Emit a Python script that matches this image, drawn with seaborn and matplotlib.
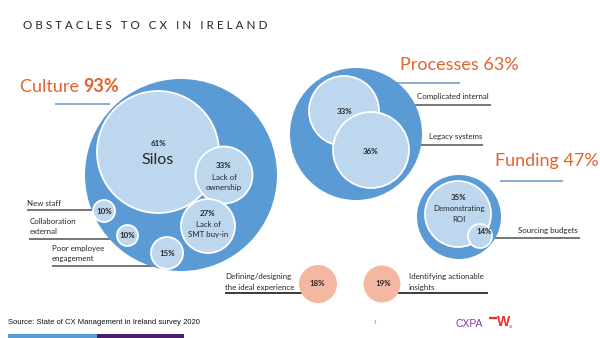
import matplotlib
matplotlib.use("Agg")
import matplotlib.pyplot as plt
import seaborn as sns
import pandas as pd

sns.set_theme(style="white")
plt.rcParams['font.family'] = ['Lato', 'DejaVu Sans']

# ---------------- data ----------------
groups = ["Culture", "Processes", "Funding"]
group_pct = [93, 63, 47]

culture_items = ["Silos", "Lack of ownership", "Lack of SMT buy-in", "New staff",
                 "Collaboration external", "Poor employee engagement"]
culture_pct = [61, 33, 27, 10, 10, 15]
process_items = ["Complicated internal", "Legacy systems"]
process_pct = [33, 36]
funding_items = ["Demonstrating ROI", "Sourcing budgets"]
funding_pct = [35, 14]
other_items = ["Defining/designing the ideal experience", "Identifying actionable insights"]
other_pct = [18, 19]

title = "OBSTACLES TO CX IN IRELAND"
source = "Source: State of CX Management in Ireland survey 2020"

# ---------------- layout (pixel positions, radii) ----------------
outer_layout = {"Culture": (181, 175, 96), "Processes": (356, 134, 66), "Funding": (459, 217, 42)}
inner_layout = {
    "Silos": (158, 152, 61), "Lack of ownership": (224, 175, 28.5), "Lack of SMT buy-in": (208, 226, 27),
    "New staff": (104, 211, 11), "Collaboration external": (127.5, 235.5, 10.5),
    "Poor employee engagement": (167, 253, 16),
    "Complicated internal": (344, 111, 35), "Legacy systems": (371, 150, 38),
    "Demonstrating ROI": (458, 214, 33), "Sourcing budgets": (480, 236, 12),
}
other_layout = {"Defining/designing the ideal experience": (318, 284, 19),
                "Identifying actionable insights": (382, 284, 18.5)}

W, H = 600, 338
fig = plt.figure(figsize=(W / 100, H / 100), dpi=100)
ax = fig.add_axes([0, 0, 1, 1])
ax.set_xlim(0, W)
ax.set_ylim(H, 0)
ax.set_axis_off()

PT = 0.72  # points per pixel at 100 dpi


def bubbles(names, pcts, layout, color, edge, lw, z):
    df = pd.DataFrame({"name": names, "pct": pcts})
    df["x"] = [layout[n][0] for n in names]
    df["y"] = [layout[n][1] for n in names]
    s = [(2 * layout[n][2] * PT) ** 2 for n in names]
    sns.scatterplot(data=df, x="x", y="y", s=s, color=color, edgecolor=edge,
                    linewidth=lw, ax=ax, zorder=z, legend=False)


BLUE = "#5B9BD5"
LIGHT = "#BDD7EE"
PINK = "#F4B8A2"
ORANGE = "#E2632C"
DARK = "#262626"

bubbles(groups, group_pct, outer_layout, BLUE, BLUE, 0, 2)
bubbles(culture_items[:3], culture_pct[:3], inner_layout, LIGHT, "white", 1.3, 3)
bubbles(culture_items[3:], culture_pct[3:], inner_layout, LIGHT, "white", 1.3, 3)
bubbles(process_items, process_pct, inner_layout, LIGHT, "white", 1.3, 3)
bubbles(funding_items, funding_pct, inner_layout, LIGHT, "white", 1.3, 3)
bubbles(other_items, other_pct, other_layout, PINK, PINK, 0, 3)
ax.set_xlim(0, W)
ax.set_ylim(H, 0)
ax.set_xlabel("")
ax.set_ylabel("")

# ---------------- connector lines ----------------
def hline(y, x0, x1, color, lw=1.2):
    ax.plot([x0, x1], [y, y], color=color, lw=lw, zorder=1, solid_capstyle="butt")

LBLUE = "#6E9FD3"
GREY = "#5F5F5F"
hline(104, 55, 110, LBLUE)
hline(83, 395, 460, LBLUE)
hline(181, 500, 563, LBLUE)
hline(105, 380, 491, GREY)
hline(145, 410, 483, GREY)
hline(238, 490, 580, GREY)
hline(209.5, 27, 100, GREY)
hline(239, 29, 122, GREY)
hline(266, 52, 165, GREY)
hline(293, 225, 305, "#1a1a1a")
hline(293, 398, 488, "#1a1a1a")

# ---------------- text ----------------
ax.text(23, 25.5, "   ".join(" ".join(w) for w in title.split(" ")), fontsize=8.4,
        color="#222222", ha="left", va="center", family=["Lato", "DejaVu Sans"])

# headings
t = ax.text(20, 87, f"{groups[0]} ", fontsize=13, color=ORANGE, ha="left", va="center")
fig.canvas.draw()
bb = t.get_window_extent()
inv = ax.transData.inverted()
x_end = inv.transform((bb.x1, bb.y0))[0]
ax.text(x_end, 87, f"{group_pct[0]}%", fontsize=13, color=ORANGE, ha="left", va="center",
        fontweight="bold")
ax.text(400, 65, f"{groups[1]} {group_pct[1]}%", fontsize=13, color=ORANGE, ha="left", va="center")
ax.text(495, 161, f"{groups[2]} {group_pct[2]}%", fontsize=13, color=ORANGE, ha="left", va="center")

SM = 5.7
def ctext(x, y, s, size=SM, bold=False):
    ax.text(x, y, s, fontsize=size, color=DARK, ha="center", va="center",
            fontweight="bold" if bold else "normal", zorder=5)

# inside circles
ctext(158, 144, f"{culture_pct[0]}%", bold=True)
ctext(158, 160, culture_items[0], size=11.5)
ctext(224, 166, f"{culture_pct[1]}%", bold=True)
ctext(224, 177, "Lack of")
ctext(224, 187.5, "ownership")
ctext(208, 214, f"{culture_pct[2]}%", bold=True)
ctext(208, 224.5, "Lack of")
ctext(208, 235, "SMT buy-in")
ctext(104, 211, f"{culture_pct[3]}%", bold=True)
ctext(127.5, 236, f"{culture_pct[4]}%", bold=True)
ctext(167, 253, f"{culture_pct[5]}%", bold=True)
ctext(345, 112, f"{process_pct[0]}%", bold=True)
ctext(371, 151, f"{process_pct[1]}%", bold=True)
ctext(459, 198, f"{funding_pct[0]}%", bold=True)
ctext(459, 209, "Demonstrating")
ctext(459, 220, "ROI")
ctext(484, 232, f"{funding_pct[1]}%", bold=True)
ctext(317, 283, f"{other_pct[0]}%", bold=True)
ctext(383, 283, f"{other_pct[1]}%", bold=True)

def ltext(x, y, s):
    ax.text(x, y, s, fontsize=SM, color=DARK, ha="left", va="center", zorder=5)

ltext(27, 203.5, "New staff")
ltext(30, 221, "Collaboration")
ltext(30, 232, "external")
ltext(52, 248, "Poor employee")
ltext(52, 258.5, "engagement")
ltext(417, 97, process_items[0])
ltext(429, 137, process_items[1])
ltext(518, 231, funding_items[1])
ltext(225, 277, "Defining/designing")
ltext(225, 287.5, "the ideal experience")
ltext(409, 277, "Identifying actionable")
ltext(409, 287.5, "insights")

# footer
ax.text(8, 323, source, fontsize=5.5, color="#111111", ha="left", va="center",
        family=["Liberation Sans", "DejaVu Sans"])
ax.text(375, 322, "1", fontsize=3.5, color="#888888", ha="center", va="center")
ax.text(456, 324, "CXPA", fontsize=7.5, color="#7B3A9C", ha="left", va="center",
        family=["Liberation Sans", "DejaVu Sans"])
hline(318, 489, 497, "#E8342E", lw=1.6)
ax.text(497, 322, "W", fontsize=10, color="#E8342E", ha="left", va="center", fontweight="bold",
        family=["Liberation Sans", "DejaVu Sans"])
ax.text(509, 327, "s", fontsize=4.5, color="#E8342E", ha="left", va="center",
        family=["Liberation Sans", "DejaVu Sans"])
ax.add_patch(plt.Rectangle((8, 334), 89, 4, color=BLUE, lw=0, zorder=1))
ax.add_patch(plt.Rectangle((97, 334), 87, 4, color="#4A1D6E", lw=0, zorder=1))

fig.savefig("out.png", dpi=100)
